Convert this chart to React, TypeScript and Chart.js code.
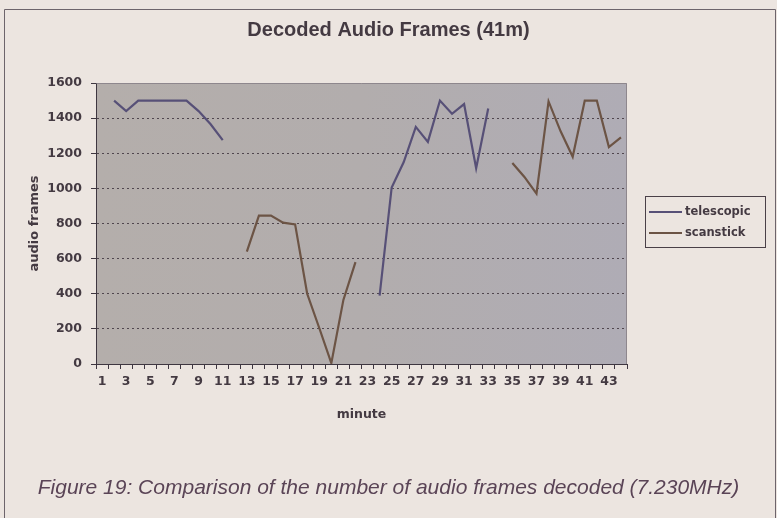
import React, { useEffect, useRef } from "react";
import { Chart, registerables } from "chart.js";

Chart.register(...registerables);

const minutes = [
  1, 2, 3, 4, 5, 6, 7, 8, 9, 10, 11, 12, 13, 14, 15, 16, 17, 18, 19, 20, 21, 22,
  23, 24, 25, 26, 27, 28, 29, 30, 31, 32, 33, 34, 35, 36, 37, 38, 39, 40, 41, 42,
  43, 44,
];

const telescopic: (number | null)[] = [
  null, 1500, 1440, 1500, 1500, 1500, 1500, 1500, 1440, 1365, 1275,
  null, null, null, null, null, null, null, null, null, null, null, null,
  390, 1005, 1150, 1350, 1265, 1500, 1425, 1480, 1115, 1455,
  null, null, null, null, null, null, null, null, null, null, null,
];

const scanstick: (number | null)[] = [
  null, null, null, null, null, null, null, null, null, null, null, null,
  640, 845, 845, 805, 795, 400, 205, 5, 365, 580,
  null, null, null, null, null, null, null, null, null, null, null, null,
  1145, 1065, 970, 1495, 1325, 1180, 1500, 1500, 1235, 1290,
];

const seriesNames = ["telescopic", "scanstick"];
const seriesColors = ["#575077", "#6c5445"];
const yMin = 0;
const yMax = 1600;
const yStep = 200;

const titleText = "Decoded Audio Frames (41m)";
const xTitle = "minute";
const yTitle = "audio frames";
const captionText =
  "Figure 19: Comparison of the number of audio frames decoded (7.230MHz)";

const W = 777;
const H = 518;
const PAGE_BG = "#ece5e0";
const INK = "#443a42";
const AXIS_FONT = "'DejaVu Sans', 'Liberation Sans', sans-serif";
const TITLE_FONT = "'Liberation Sans', Arial, sans-serif";

const decorPlugin = {
  id: "decor",
  beforeDraw(chart: any) {
    const { ctx, chartArea } = chart;
    ctx.save();
    ctx.fillStyle = PAGE_BG;
    ctx.fillRect(0, 0, W, H);
    ctx.strokeStyle = "#6d646b";
    ctx.lineWidth = 1;
    ctx.beginPath();
    ctx.moveTo(4.5, H);
    ctx.lineTo(4.5, 9.5);
    ctx.lineTo(775.5, 9.5);
    ctx.lineTo(775.5, H);
    ctx.stroke();
    const g = ctx.createLinearGradient(chartArea.left, 0, chartArea.right, 0);
    g.addColorStop(0, "#b4aeab");
    g.addColorStop(0.5, "#b2adad");
    g.addColorStop(1, "#afacb5");
    ctx.fillStyle = g;
    ctx.fillRect(
      chartArea.left,
      chartArea.top,
      chartArea.right - chartArea.left,
      chartArea.bottom - chartArea.top
    );
    ctx.restore();
  },
  beforeDatasetsDraw(chart: any) {
    const { ctx, chartArea } = chart;
    ctx.save();
    ctx.strokeStyle = "#8e878d";
    ctx.lineWidth = 1;
    ctx.beginPath();
    ctx.moveTo(Math.round(chartArea.left) + 0.5, Math.round(chartArea.top) + 0.5);
    ctx.lineTo(Math.round(chartArea.right) - 0.5, Math.round(chartArea.top) + 0.5);
    ctx.lineTo(Math.round(chartArea.right) - 0.5, Math.round(chartArea.bottom));
    ctx.stroke();
    ctx.restore();
  },
  afterDraw(chart: any) {
    const { ctx } = chart;
    const bx = 645.5;
    const by = 196.5;
    const bw = 120;
    const bh = 51;
    ctx.save();
    ctx.fillStyle = PAGE_BG;
    ctx.fillRect(bx, by, bw, bh);
    ctx.strokeStyle = "#4a4048";
    ctx.lineWidth = 1;
    ctx.strokeRect(bx, by, bw, bh);
    ctx.font = `bold 11.5px ${AXIS_FONT}`;
    ctx.textBaseline = "middle";
    ctx.textAlign = "left";
    seriesNames.forEach((name, i) => {
      const y = 212 + i * 21;
      const ds = chart.data.datasets[i];
      ctx.strokeStyle = ds.borderColor;
      ctx.lineWidth = 2;
      ctx.beginPath();
      ctx.moveTo(649, y);
      ctx.lineTo(682, y);
      ctx.stroke();
      ctx.fillStyle = INK;
      ctx.fillText(name, 685, y);
    });
    ctx.restore();
  },
};

export default function App() {
  const ref = useRef<HTMLCanvasElement | null>(null);

  useEffect(() => {
    if (!ref.current) return;
    const chart = new Chart(ref.current, {
      type: "line",
      data: {
        labels: minutes.map(String),
        datasets: [
          {
            label: seriesNames[0],
            data: telescopic,
            borderColor: seriesColors[0],
            backgroundColor: seriesColors[0],
            borderWidth: 2.2,
            pointRadius: 0,
            tension: 0,
            spanGaps: false,
          },
          {
            label: seriesNames[1],
            data: scanstick,
            borderColor: seriesColors[1],
            backgroundColor: seriesColors[1],
            borderWidth: 2.2,
            pointRadius: 0,
            tension: 0,
            spanGaps: false,
          },
        ],
      },
      options: {
        responsive: false,
        animation: false,
        devicePixelRatio: 1,
        layout: { padding: 0 },
        plugins: {
          legend: { display: false },
          tooltip: { enabled: false },
          title: {
            display: true,
            text: titleText,
            color: INK,
            font: { family: TITLE_FONT, size: 20, weight: "bold", lineHeight: 1.2 },
            padding: { top: 18, bottom: 41 },
          },
          subtitle: {
            display: true,
            position: "bottom",
            text: captionText,
            color: "#5a4456",
            font: { family: TITLE_FONT, size: 21, style: "italic", lineHeight: 1.2 },
            padding: { top: 0, bottom: 17.4 },
          },
        },
        scales: {
          x: {
            type: "category",
            offset: true,
            afterFit: (s: any) => {
              s.height = 111.4;
            },
            grid: {
              display: true,
              drawOnChartArea: false,
              drawTicks: true,
              tickLength: 5,
              tickColor: "#3e3640",
              offset: true,
            },
            border: { display: true, color: "#3e3640", width: 1 },
            ticks: {
              autoSkip: false,
              maxRotation: 0,
              minRotation: 0,
              padding: 5,
              color: INK,
              font: { family: AXIS_FONT, size: 12.5, weight: "bold" },
              callback: (_v: any, i: number) =>
                minutes[i] % 2 === 1 ? String(minutes[i]) : "",
            },
            title: {
              display: true,
              text: xTitle,
              color: INK,
              font: { family: AXIS_FONT, size: 12.5, weight: "bold", lineHeight: 1.2 },
              padding: { top: 0, bottom: 52.9 },
            },
          },
          y: {
            min: yMin,
            max: yMax,
            afterFit: (s: any) => {
              s.width = 96;
            },
            grid: {
              display: true,
              drawOnChartArea: true,
              drawTicks: true,
              tickLength: 5,
              tickColor: "#3e3640",
              lineWidth: 1,
              color: (c: any) =>
                c.tick && (c.tick.value === yMin || c.tick.value === yMax)
                  ? "rgba(0,0,0,0)"
                  : "#50464e",
            },
            border: { display: true, color: "#3e3640", width: 1, dash: [2, 3] },
            ticks: {
              stepSize: yStep,
              padding: 9,
              color: INK,
              font: { family: AXIS_FONT, size: 12.5, weight: "bold" },
              callback: (v: any) => String(v),
            },
            title: {
              display: true,
              text: yTitle,
              color: INK,
              font: { family: AXIS_FONT, size: 13, weight: "bold", lineHeight: 1.2 },
              padding: { top: 27.2, bottom: 0 },
            },
          },
          legendSpace: {
            type: "linear",
            position: "right",
            min: yMin,
            max: yMax,
            afterFit: (s: any) => {
              s.width = 150;
            },
            grid: { display: false, drawTicks: false },
            border: { display: false },
            ticks: { display: false },
          },
        },
      },
      plugins: [decorPlugin],
    } as any);
    return () => chart.destroy();
  }, []);

  return (
    <div style={{ position: "absolute", left: 0, top: 0, width: W, height: H }}>
      <canvas ref={ref} width={W} height={H} style={{ display: "block" }} />
    </div>
  );
}
